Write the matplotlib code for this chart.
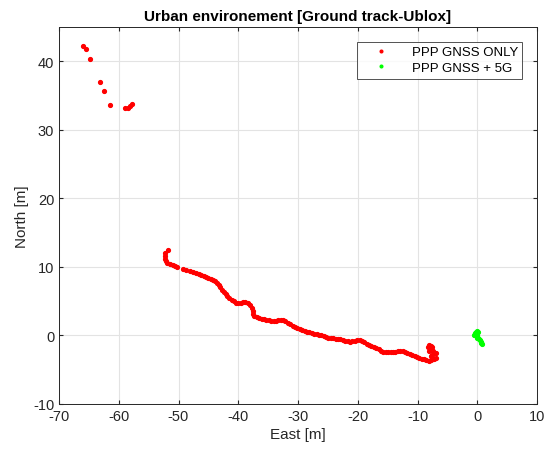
import matplotlib.pyplot as plt

# sparse fixes at the start (upper left)
east_start = [-65.9, -65.4, -64.8, -63.2, -62.4, -61.5, -58.95, -58.4, -58.1, -57.8]
north_start = [42.2, 41.75, 40.4, 37.0, 35.7, 33.6, 33.2, 33.2, 33.5, 33.8]

# main red track, PPP GNSS only
east_track = [-51.8, -52.3, -52.3, -52.2, -52.1, -51.9, -51.5, -51.0, -50.6, -50.2,
              -49.3, -48.7, -48.1, -47.55, -47.0,
              -46.6, -46.2, -45.8, -45.4, -45.0, -44.6, -44.2, -43.9, -43.6, -43.3,
              -43.0, -42.7, -42.4, -42.1, -41.8, -41.5, -41.1, -40.7, -40.3, -40.0,
              -39.6, -39.2, -38.8, -38.4, -38.0, -37.7, -37.6, -37.5, -37.3, -36.9,
              -36.5, -36.1, -35.7, -35.3, -34.9, -34.5, -34.1, -33.7, -33.3, -32.9,
              -32.5, -32.1, -31.7, -31.3, -30.9, -30.5, -30.1, -29.7, -29.3, -28.9,
              -28.5, -28.1, -27.7, -27.3, -26.9, -26.5, -26.1, -25.7, -25.3, -24.9,
              -24.5, -24.1, -23.7, -23.3, -22.9, -22.5, -22.1, -21.7, -21.3, -20.9,
              -20.5, -20.1, -19.7, -19.3, -18.9, -18.5, -18.1, -17.7, -17.3, -16.9,
              -16.5, -16.1, -15.7, -15.3, -14.9, -14.5, -14.1, -13.7, -13.3, -12.9,
              -12.5, -12.1, -11.7, -11.3, -10.9, -10.5, -10.1, -9.7, -9.3, -8.9,
              -8.5, -8.1, -7.7, -7.3, -6.9,
              -8.1, -7.8, -7.55, -7.9, -7.6, -7.4, -7.2, -6.9, -7.5, -7.8, -7.6, -8.2, -8.0]
north_track = [12.5, 12.0, 11.6, 11.2, 10.8, 10.5, 10.4, 10.3, 10.2, 10.0,
               9.65, 9.5, 9.35, 9.2, 9.05,
               8.95, 8.85, 8.7, 8.6, 8.45, 8.3, 8.1, 7.9, 7.6, 7.3,
               7.0, 6.7, 6.35, 6.0, 5.7, 5.45, 5.2, 5.0, 4.8, 4.75,
               4.8, 4.9, 4.95, 4.75, 4.4, 4.0, 3.6, 3.2, 2.85, 2.7,
               2.55, 2.45, 2.35, 2.3, 2.25, 2.15, 2.1, 2.15, 2.2, 2.25,
               2.2, 2.05, 1.85, 1.65, 1.45, 1.25, 1.05, 0.9, 0.8, 0.65,
               0.55, 0.45, 0.35, 0.25, 0.15, 0.05, 0.0, -0.1, -0.2, -0.3,
               -0.35, -0.4, -0.45, -0.5, -0.55, -0.65, -0.75, -0.85, -0.9, -0.85,
               -0.75, -0.6, -0.6, -0.8, -1.0, -1.2, -1.35, -1.5, -1.7, -1.85,
               -2.0, -2.2, -2.35, -2.4, -2.4, -2.4, -2.4, -2.35, -2.3, -2.3,
               -2.25, -2.35, -2.5, -2.65, -2.8, -2.95, -3.1, -3.25, -3.4, -3.5,
               -3.65, -3.75, -3.6, -3.45, -3.35,
               -1.4, -1.5, -1.7, -1.9, -2.1, -2.3, -2.5, -2.6, -2.8, -3.0, -3.3, -1.7, -2.3]

# green cluster, PPP GNSS + 5G
east_5g = [0.0, -0.2, -0.5, -0.3, -0.4, -0.1, 0.2, 0.4, 0.55, 0.7, 0.8, 0.1, 0.0, -0.1, 0.3, 0.6]
north_5g = [0.7, 0.45, 0.1, 0.3, 0.0, -0.2, -0.4, -0.7, -0.9, -1.1, -1.2, 0.5, 0.1, -0.3, -0.55, -1.0]

plt.rcParams['font.family'] = ['Liberation Sans', 'DejaVu Sans']
plt.rcParams['axes.unicode_minus'] = False

fig = plt.figure(figsize=(5.46, 4.52), dpi=100)
ax = fig.add_axes([59/546, 47/452, 478/546, 377/452])

ax.plot(east_start + east_track, north_start + north_track, '.', color='#ff0000',
        markersize=5.5, label='PPP GNSS ONLY', zorder=3)
ax.plot(east_5g, north_5g, '.', color='#00ff00', markersize=5.5,
        label='PPP GNSS + 5G', zorder=3)

ax.set_xlim(-70, 10)
ax.set_ylim(-10, 45)
ax.set_xticks(range(-70, 11, 10))
ax.set_yticks(range(-10, 41, 10))
ax.grid(True, color='#e3e3e3', linewidth=0.8)
ax.set_axisbelow(True)
ax.tick_params(direction='in', labelsize=10.5, colors='#262626', length=3,
               top=True, right=True)
for s in ax.spines.values():
    s.set_color('#262626')
    s.set_linewidth(0.7)

ax.set_xlabel('East [m]', fontsize=11, color='#262626', labelpad=3)
ax.set_ylabel('North [m]', fontsize=11, color='#262626', labelpad=3)
ax.set_title('Urban environement [Ground track-Ublox]', fontsize=11,
             fontweight='bold', color='black', pad=5)

leg = ax.legend(loc='upper right', fontsize=9.5, frameon=True, fancybox=False,
                edgecolor='#262626', markerscale=0.7, borderaxespad=1.1,
                handlelength=3.0, borderpad=0.35, labelspacing=0.25)
leg.get_frame().set_linewidth(0.7)

plt.savefig('out.png', dpi=100)
